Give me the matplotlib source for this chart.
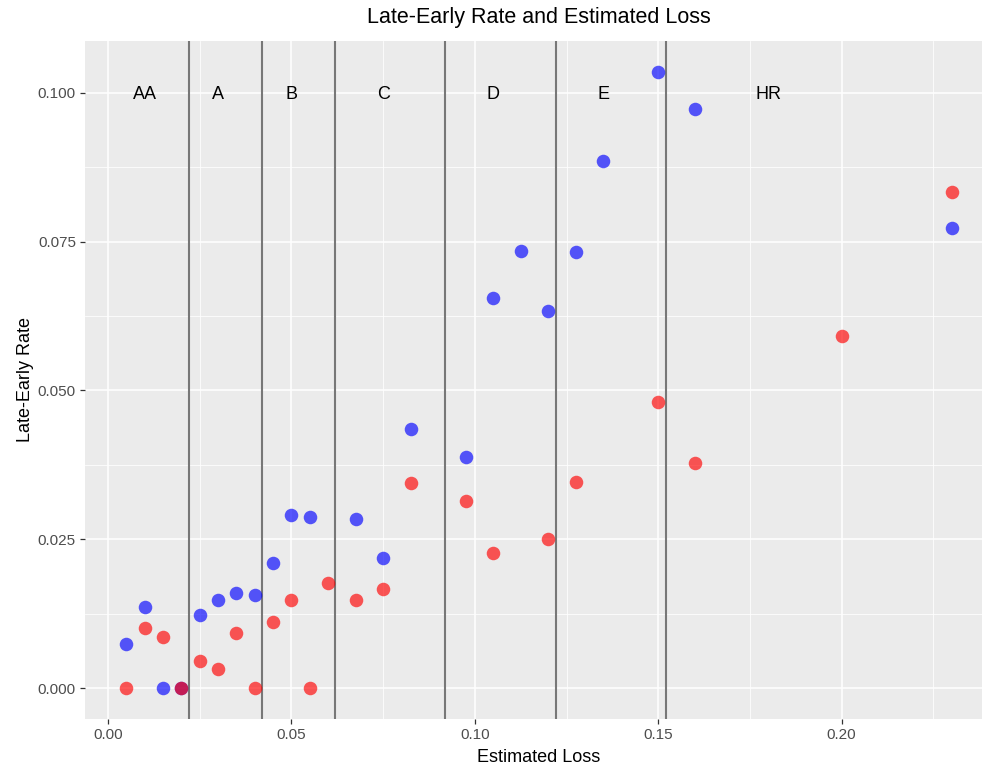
import matplotlib
matplotlib.use("Agg")
import matplotlib.pyplot as plt
from matplotlib.ticker import FixedLocator

plt.rcParams['font.family'] = ['Liberation Sans', 'DejaVu Sans']

# Estimated loss by grade and the late-minus-early rate for two cohorts
loss_blue = [0.005, 0.01, 0.015, 0.02, 0.025, 0.03, 0.035, 0.04, 0.045, 0.05,
             0.055, 0.0675, 0.075, 0.0825, 0.0975, 0.105, 0.1125, 0.12, 0.1275,
             0.135, 0.15, 0.16, 0.23]
rate_blue = [0.0075, 0.0136, 0.0, 0.0, 0.0123, 0.0148, 0.0159, 0.0157, 0.0211, 0.0290,
             0.0288, 0.0284, 0.0219, 0.0435, 0.0389, 0.0655, 0.0734, 0.0633, 0.0733,
             0.0886, 0.1035, 0.0972, 0.0773]

loss_red = [0.005, 0.01, 0.015, 0.02, 0.025, 0.03, 0.035, 0.04, 0.045, 0.05,
            0.055, 0.06, 0.0675, 0.075, 0.0825, 0.0975, 0.105, 0.12, 0.1275,
            0.15, 0.16, 0.20, 0.23]
rate_red = [0.0, 0.0101, 0.0086, 0.0, 0.0046, 0.0033, 0.0093, 0.0, 0.0111, 0.0148,
            0.0, 0.0177, 0.0148, 0.0166, 0.0344, 0.0315, 0.0227, 0.0250, 0.0346,
            0.0480, 0.0378, 0.0591, 0.0833]

# Grade boundaries and grade labels
boundaries = [0.022, 0.042, 0.062, 0.092, 0.122, 0.152]
grades = ["AA", "A", "B", "C", "D", "E", "HR"]
grade_x = [0.01, 0.03, 0.05, 0.075, 0.105, 0.135, 0.18]
grade_y = 0.1

W, H = 982, 771
fig = plt.figure(figsize=(W / 100, H / 100), dpi=100)
left, right, top, bottom = 85, 993, 41, 719
ax = fig.add_axes([left / W, (H - bottom) / H, (right - left) / W, (bottom - top) / H])

ax.set_facecolor('#EBEBEB')
for s in ax.spines.values():
    s.set_visible(False)

ax.set_xlim(-0.00625, 0.24125)
ax.set_ylim(-0.005175, 0.108675)

ax.xaxis.set_major_locator(FixedLocator([0.0, 0.05, 0.10, 0.15, 0.20]))
ax.xaxis.set_minor_locator(FixedLocator([0.025, 0.075, 0.125, 0.175, 0.225]))
ax.yaxis.set_major_locator(FixedLocator([0.0, 0.025, 0.05, 0.075, 0.1]))
ax.yaxis.set_minor_locator(FixedLocator([0.0125, 0.0375, 0.0625, 0.0875]))
ax.set_xticklabels(["0.00", "0.05", "0.10", "0.15", "0.20"])
ax.set_yticklabels(["0.000", "0.025", "0.050", "0.075", "0.100"])

ax.grid(which='major', color='white', linewidth=1.1)
ax.grid(which='minor', color='white', linewidth=0.55)
ax.set_axisbelow(True)

ax.tick_params(which='major', length=3.5, width=0.9, color='#333333',
               labelsize=11, labelcolor='#4D4D4D', pad=3)
ax.tick_params(which='minor', length=0)

for b in boundaries:
    ax.axvline(b, color='#777777', linewidth=1.5, zorder=2)

ax.scatter(loss_blue, rate_blue, s=95, color='blue', alpha=0.65, linewidths=0, zorder=3)
ax.scatter(loss_red, rate_red, s=95, color='red', alpha=0.65, linewidths=0, zorder=4)

for g, gx in zip(grades, grade_x):
    ax.text(gx, grade_y, g, ha='center', va='center_baseline', fontsize=13,
            color='black', zorder=5)

ax.set_xlabel("Estimated Loss", fontsize=13, color='black', labelpad=5)
ax.set_ylabel("Late-Early Rate", fontsize=13, color='black', labelpad=3)
fig.text(539 / W, 1 - 18 / H, "Late-Early Rate and Estimated Loss",
         ha='center', va='center', fontsize=15.5, color='black')

fig.savefig("out.png", dpi=100)
